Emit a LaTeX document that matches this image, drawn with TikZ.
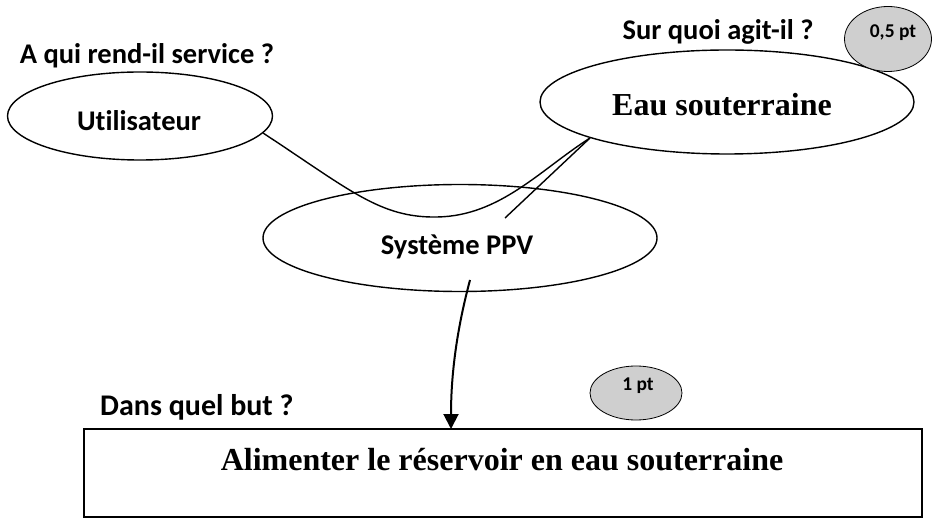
\documentclass[tikz,border=0pt]{standalone}
\usepackage{fontspec}
\setmainfont{Liberation Serif}
\newfontfamily\calfont[Ligatures=NoCommon]{Carlito}
\usetikzlibrary{shapes.geometric,arrows.meta}
\begin{document}
\begin{tikzpicture}[x=1pt,y=-1pt,
  oval/.style={draw,line width=1.4pt,ellipse,inner sep=0pt},
  qtext/.style={font=\calfont\bfseries\fontsize{28.5}{32}\selectfont,inner sep=0pt,anchor=base},
  ttext/.style={font=\bfseries\fontsize{32}{36}\selectfont,inner sep=0pt,anchor=base},
  ptbubble/.style={draw,line width=0.8pt,ellipse,fill=black!19,inner sep=0pt},
  pttext/.style={font=\calfont\bfseries\fontsize{19.5}{22}\selectfont,inner sep=0pt,anchor=base},
  link/.style={line width=1.4pt}]
\useasboundingbox (0,0) rectangle (934,518);
% ellipses
\node[oval,minimum width=265pt,minimum height=88pt] (util) at (140,116) {};
\node[qtext] (tutil) at (139,131) {Utilisateur};
\node[qtext] (q1) at (147,64) {A qui rend-il service ?};
\node[oval,minimum width=374pt,minimum height=104pt] (eau) at (727,102) {};
\node[ttext] (teau) at (722,116) {Eau souterraine};
\node[qtext] (q2) at (718,40) {Sur quoi agit-il ?};
\node[ptbubble,minimum width=87pt,minimum height=65pt] (p1) at (888,39) {};
\node[pttext] (tp1) at (893,38) {0,5 pt};
\node[oval,minimum width=394pt,minimum height=107pt] (sys) at (460,238) {};
\node[qtext] (tsys) at (457,255) {Système PPV};
% goal box
\node[draw,line width=1.8pt,minimum width=838pt,minimum height=88pt,inner sep=0pt] (but) at (503,473) {};
\coordinate (boxtop) at (451,429);
\node[ttext] (tbut) at (502,470) {Alimenter le réservoir en eau souterraine};
\node[qtext,anchor=base west,font=\calfont\bfseries\fontsize{30}{34}\selectfont] (q3) at (100,415) {Dans quel but ?};
\node[ptbubble,minimum width=92pt,minimum height=54pt] (p2) at (636,393) {};
\node[pttext] (tp2) at (638,390) {1 pt};
% connectors
\coordinate (u1) at (263,133);
\coordinate (e1) at (590,138);
\coordinate (s1) at (505,218);
\coordinate (s2) at (470,280);
\draw[link] (u1) .. controls (350,190) and (380,218) .. (437,217) .. controls (500,216) and (540,170) .. (e1);
\draw[link] (e1) -- (s1);
\draw[line width=2pt,-{Triangle[length=15pt,width=15pt]}] (s2) .. controls (458,325) and (451,370) .. (boxtop);
\end{tikzpicture}
\end{document}
